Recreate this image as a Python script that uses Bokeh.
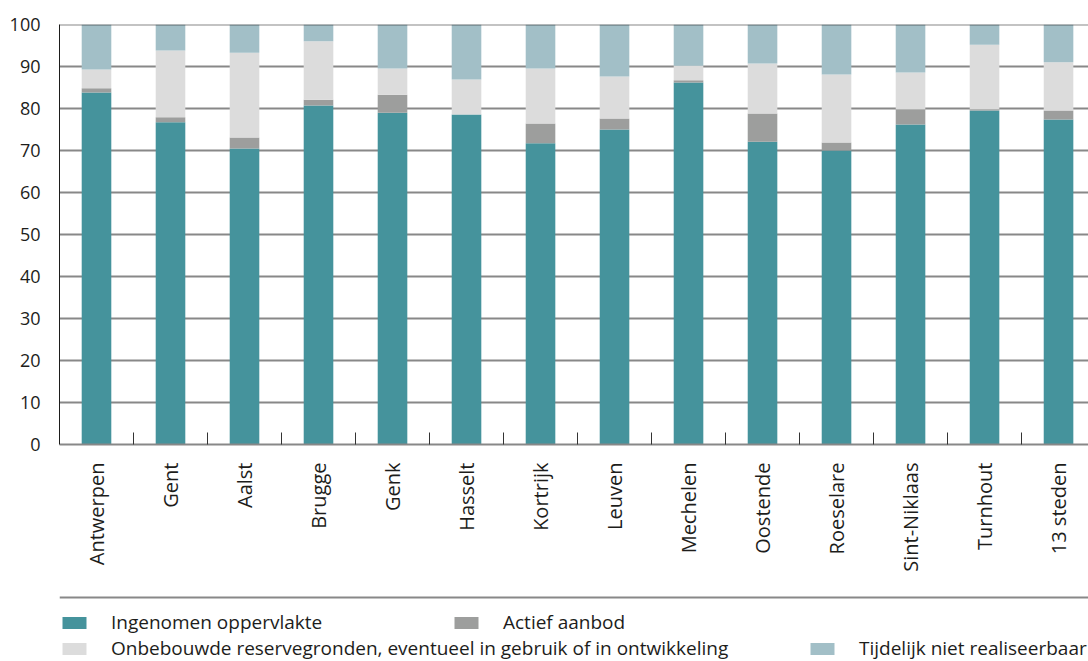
import math
from bokeh.plotting import figure
from bokeh.models import ColumnDataSource, FixedTicker, Range1d, Span, Legend, LegendItem
from bokeh.layouts import column
from bokeh.embed import file_html
from bokeh.resources import INLINE

cities = ["Antwerpen", "Gent", "Aalst", "Brugge", "Genk", "Hasselt", "Kortrijk",
          "Leuven", "Mechelen", "Oostende", "Roeselare", "Sint-Niklaas", "Turnhout", "13 steden"]
ingenomen = [83.8, 76.7, 70.5, 80.7, 79.0, 78.6, 71.7, 75.0, 86.2, 72.1, 70.0, 76.2, 79.5, 77.4]
actief = [1.0, 1.2, 2.6, 1.4, 4.3, 0.0, 4.7, 2.6, 0.5, 6.7, 1.9, 3.6, 0.3, 2.1]
onbebouwd = [4.5, 15.9, 20.2, 13.9, 6.2, 8.3, 13.1, 10.0, 3.5, 11.9, 16.2, 8.8, 15.4, 11.5]
tijdelijk = [10.7, 6.2, 6.7, 4.0, 10.5, 13.1, 10.5, 12.4, 9.8, 9.3, 11.9, 11.4, 4.8, 9.0]
y_ticks = [0, 10, 20, 30, 40, 50, 60, 70, 80, 90, 100]

series_keys = ["ingenomen", "actief", "onbebouwd", "tijdelijk"]
series_labels = ["Ingenomen oppervlakte", "Actief aanbod",
                 "Onbebouwde reservegronden, eventueel in gebruik of in ontwikkeling",
                 "Tijdelijk niet realiseerbaar"]
colors = ["#45939C", "#9D9E9D", "#DCDCDC", "#A2BFC7"]

FONT = "Open Sans"
TXT = "#1d1d1b"

xs = list(range(len(cities)))
src = ColumnDataSource(dict(x=xs, ingenomen=ingenomen, actief=actief,
                            onbebouwd=onbebouwd, tijdelijk=tijdelijk))

# ---------------- main chart ----------------
p = figure(width=1088, height=590, frame_width=1029, frame_height=420,
           x_range=Range1d(-0.5, 13.405), y_range=Range1d(0, 100),
           toolbar_location=None, output_backend="svg",
           min_border_left=59, min_border_right=0, min_border_top=24, min_border_bottom=146)
p.outline_line_color = None
p.vbar_stack(series_keys, x="x", width=0.4, color=colors, line_color=None, source=src)

p.yaxis.ticker = FixedTicker(ticks=y_ticks)
p.yaxis.major_tick_in = 0
p.yaxis.major_tick_out = 0
p.yaxis.minor_tick_in = 0
p.yaxis.minor_tick_out = 0
p.yaxis.major_label_standoff = 19
p.yaxis.major_label_text_font = FONT
p.yaxis.major_label_text_font_size = "18px"
p.yaxis.major_label_text_color = TXT
p.yaxis.axis_line_color = "#1d1d1b"
p.yaxis.axis_line_width = 1

p.xaxis.ticker = FixedTicker(ticks=xs, minor_ticks=[i + 0.5 for i in xs[:-1]])
p.xaxis.major_label_overrides = {i: c for i, c in zip(xs, cities)}
p.xaxis.major_label_orientation = math.pi / 2
p.xaxis.major_tick_in = 0
p.xaxis.major_tick_out = 0
p.xaxis.minor_tick_in = 12
p.xaxis.minor_tick_out = 0
p.xaxis.minor_tick_line_color = "#333333"
p.xaxis.minor_tick_line_width = 1
p.xaxis.axis_line_color = "#888888"
p.xaxis.axis_line_width = 2
p.xaxis.major_label_standoff = 18
p.xaxis.major_label_text_font = FONT
p.xaxis.major_label_text_font_size = "20px"
p.xaxis.major_label_text_color = TXT

p.xgrid.visible = False
p.ygrid.ticker = FixedTicker(ticks=y_ticks[1:-1])
p.ygrid.grid_line_color = "#888888"
p.ygrid.grid_line_width = 2
p.add_layout(Span(location=100, dimension="width", line_color="black",
                  line_alpha=0.47, line_width=2, level="overlay"))

# ---------------- legend strip ----------------
# same x scale as the chart; y window lies above the bars (which end at 100),
# so the stacked series here only serve as legend glyphs
p2 = figure(width=1088, height=71, x_range=Range1d(-0.5, 13.405), y_range=Range1d(200, 271),
            toolbar_location=None, output_backend="svg",
            min_border_left=59, min_border_right=0, min_border_top=0, min_border_bottom=0,
            x_axis_type=None, y_axis_type=None)
p2.outline_line_color = None
p2.add_layout(Span(location=264, dimension="width", line_color="#888888", line_width=2))
leg_renderers = p2.vbar_stack(series_keys, x="x", width=0.4, color=colors,
                              line_color=None, source=src)

legend_pos = [(0, 26), (392, 26), (0, 0), (748, 0)]
for lbl, r, loc in zip(series_labels, leg_renderers, legend_pos):
    lg = Legend(items=[LegendItem(label=lbl, renderers=[r])], location=loc,
                orientation="horizontal", glyph_width=30, glyph_height=15,
                label_standoff=22, padding=0, margin=0, spacing=0,
                border_line_color=None, background_fill_alpha=0,
                label_text_font=FONT, label_text_font_size="19px",
                label_text_color=TXT, label_height=25)
    p2.add_layout(lg)

open("out.html", "w").write(file_html(column(p, p2, spacing=0), INLINE))
